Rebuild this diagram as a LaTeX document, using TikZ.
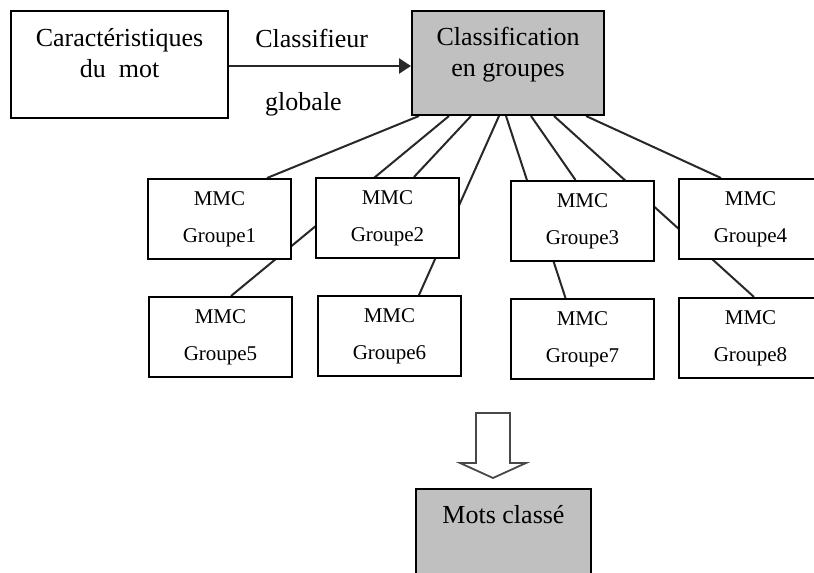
\documentclass[tikz,border=0pt]{standalone}
\usepackage{fontspec}
\setmainfont{Liberation Serif}
\usetikzlibrary{arrows.meta,calc,backgrounds}
\definecolor{boxgray}{RGB}{192,192,192}
\definecolor{wirecol}{RGB}{40,40,40}
\begin{document}
\begin{tikzpicture}[x=1pt,y=-1pt,
  frame/.style={draw=black,line width=2pt,inner sep=0pt},
  grp/.style={frame,fill=white,minimum width=143pt,minimum height=80pt,
    align=center,font=\fontsize{21}{37}\selectfont},
  bigtxt/.style={anchor=base,inner sep=0pt,font=\fontsize{26}{30}\selectfont},
  wire/.style={draw=wirecol,line width=2pt}]
\useasboundingbox (0,0) rectangle (814,573);
\clip (0,0) rectangle (814,573);

% top row: input box and group classifier
\node[frame,minimum width=217pt,minimum height=107pt] (car) at (119.5,64.5) {};
\node[bigtxt] at ($(car.north)+(0,36)$) {Caractéristiques};
\node[bigtxt] at ($(car.north)+(0,67)$) {du~~mot};

\node[frame,fill=boxgray,minimum width=192pt,minimum height=104pt] (cls) at (508,63) {};
\node[bigtxt] at ($(cls.north)+(0,35)$) {Classification};
\node[bigtxt] at ($(cls.north)+(0,66)$) {en groupes};

\draw[wire,line width=2.4pt,-{Triangle[length=12pt,width=15pt]}]
  ($(car.east)+(0,1.5)$) -- ($(car.east -| cls.west)+(0,1.5)$);
\node[bigtxt] (clsf) at (311.7,47) {Classifieur};
\node[bigtxt] (glob) at (303.5,110) {globale};

% one HMM per group
\node[grp] (g1) at (219.5,219) {MMC\\Groupe1};
\node[grp] (g2) at (387.5,218) {MMC\\Groupe2};
\node[grp] (g3) at (582.5,221) {MMC\\Groupe3};
\node[grp] (g4) at (750.5,219) {MMC\\Groupe4};
\node[grp] (g5) at (220.5,337) {MMC\\Groupe5};
\node[grp] (g6) at (389.5,336) {MMC\\Groupe6};
\node[grp] (g7) at (582.5,339) {MMC\\Groupe7};
\node[grp] (g8) at (750.5,338) {MMC\\Groupe8};

% links from the classifier to every group (behind the boxes)
\begin{scope}[on background layer]
  \fill[white] (0,0) rectangle (814,573);
  \draw[wire] ($(cls.south west)+(8,0)$)   -- ($(g1.north west)+(120,0)$);
  \draw[wire] ($(cls.south west)+(38,0)$)  -- ($(g5.north west)+(83,0)$);
  \draw[wire] ($(cls.south west)+(60,0)$)  -- ($(g2.north west)+(99,0)$);
  \draw[wire] ($(cls.south west)+(88,0)$)  -- ($(g6.north west)+(102,0)$);
  \draw[wire] ($(cls.south west)+(95,0)$)  -- ($(g7.north west)+(55.5,0)$);
  \draw[wire] ($(cls.south west)+(120,0)$) -- ($(g3.north west)+(65.5,0)$);
  \draw[wire] ($(cls.south west)+(143,0)$) -- ($(g8.north west)+(76,0)$);
  \draw[wire] ($(cls.south west)+(175,0)$) -- ($(g4.north west)+(43,0)$);
\end{scope}

% hollow output arrow and result
\draw[draw=wirecol!85,line width=1.8pt,line join=miter]
  (476,413) -- (510,413) -- (510,463) -- (526,463) -- (493,478)
  -- (460,463) -- (476,463) -- cycle;
\node[frame,fill=boxgray,minimum width=175pt,minimum height=110pt] (mots) at (503.5,544) {};
\node[bigtxt] at ($(mots.north)+(0,35)$) {Mots classé};
\end{tikzpicture}
\end{document}
